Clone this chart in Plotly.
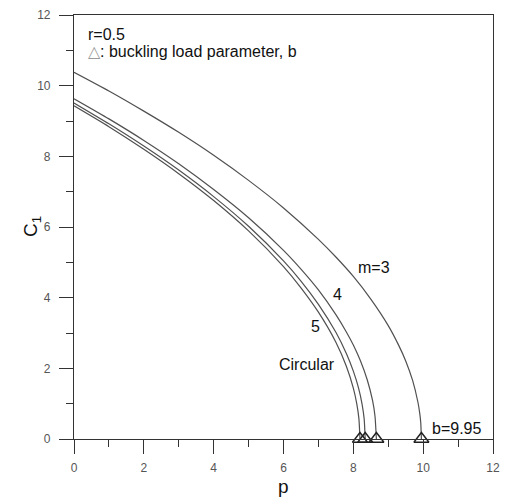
import plotly.graph_objects as go

# ---- data ----
p_m3 = [0, 1, 2, 3, 4, 5, 6, 7, 7.5, 8, 8.5, 9, 9.3, 9.5, 9.7, 9.85, 9.9, 9.93, 9.95]
c_m3 = [10.38, 9.85, 9.28, 8.68, 8.03, 7.32, 6.54, 5.65, 5.15, 4.60, 3.96, 3.21, 2.65, 2.21, 1.65, 1.04, 0.74, 0.47, 0.0]

p_m4 = [0, 1, 2, 3, 4, 5, 6, 6.5, 7, 7.5, 7.8, 8.0, 8.2, 8.4, 8.55, 8.62, 8.66]
c_m4 = [9.63, 9.06, 8.45, 7.79, 7.06, 6.26, 5.34, 4.81, 4.22, 3.52, 3.03, 2.66, 2.22, 1.67, 1.09, 0.65, 0.0]

p_m5 = [0, 1, 2, 3, 4, 5, 6, 6.5, 7, 7.5, 7.8, 8.0, 8.15, 8.25, 8.31, 8.34]
c_m5 = [9.51, 8.92, 8.29, 7.61, 6.86, 6.02, 5.04, 4.47, 3.81, 3.02, 2.42, 1.92, 1.44, 0.99, 0.57, 0.0]

p_circ = [0, 1, 2, 3, 4, 5, 6, 6.5, 7, 7.5, 7.8, 8.0, 8.1, 8.16, 8.19]
c_circ = [9.43, 8.84, 8.20, 7.51, 6.75, 5.89, 4.88, 4.28, 3.59, 2.74, 2.06, 1.44, 0.99, 0.57, 0.0]

buckling_p = [9.95, 8.66, 8.34, 8.19]
buckling_c = [0, 0, 0, 0]

x_ticks = [0, 2, 4, 6, 8, 10, 12]
y_ticks = [0, 2, 4, 6, 8, 10, 12]

LINE = "#505050"
FONT = "Liberation Sans, Arial, sans-serif"

fig = go.Figure()
for px_, cy in [(p_m3, c_m3), (p_m4, c_m4), (p_m5, c_m5), (p_circ, c_circ)]:
    fig.add_trace(go.Scatter(x=px_, y=cy, mode="lines",
                             line=dict(color=LINE, width=1.2, shape="spline", smoothing=0.6),
                             showlegend=False, hoverinfo="skip"))
fig.add_trace(go.Scatter(x=buckling_p, y=buckling_c, mode="markers",
                         marker=dict(symbol="triangle-up-open", size=13, color="#202020",
                                     line=dict(width=1.4, color="#202020")),
                         showlegend=False, cliponaxis=False, hoverinfo="skip"))

ann = [
    dict(x=0.34, y=11.45, text="r=0.5"),
    dict(x=0.34, y=10.98, text="<span style='color:#9a9a9a'>△</span>: buckling load parameter, b"),
    dict(x=8.08, y=4.84, text="m=3"),
    dict(x=7.35, y=4.08, text="4"),
    dict(x=6.72, y=3.18, text="5"),
    dict(x=5.8, y=2.1, text="Circular"),
    dict(x=10.2, y=0.31, text="b=9.95"),
]
for a in ann:
    fig.add_annotation(x=a["x"], y=a["y"], text=a["text"], xref="x", yref="y",
                       xanchor="left", yanchor="middle", showarrow=False,
                       font=dict(family=FONT, size=16, color="#111111"))

# axis titles
fig.add_annotation(x=0.5, y=0, xref="paper", yref="paper", text="p", showarrow=False,
                   xanchor="center", yanchor="middle", yshift=-47,
                   font=dict(family=FONT, size=19, color="#111111"))
fig.add_annotation(x=0, y=0.5, xref="paper", yref="paper", text="C<sub>1</sub>", showarrow=False,
                   xanchor="center", yanchor="middle", xshift=-42, textangle=-90,
                   font=dict(family=FONT, size=19, color="#111111"))

axis_common = dict(
    range=[0, 12], tickmode="array", ticks="outside", ticklen=14, tickwidth=1.2,
    tickcolor="#333333", showline=True, linecolor="#333333", linewidth=1.2, mirror=True,
    showgrid=False, zeroline=False, automargin=False,
    tickfont=dict(family=FONT, size=12, color="#555555"),
    minor=dict(dtick=1, ticks="outside", ticklen=7, tickwidth=1.2, tickcolor="#333333", showgrid=False),
)
fig.update_xaxes(**axis_common, tickvals=x_ticks, ticktext=[str(v) for v in x_ticks],
                 ticklabelstandoff=3)
fig.update_yaxes(**axis_common, tickvals=y_ticks, ticktext=[str(v) for v in y_ticks],
                 ticklabelstandoff=6)

# page body adds an 8px offset, so the figure is sized to fit the 508x501 window
fig.update_layout(width=500, height=493, margin=dict(l=66, r=15, t=7, b=62),
                  plot_bgcolor="white", paper_bgcolor="white")
fig.write_html("out.html")
